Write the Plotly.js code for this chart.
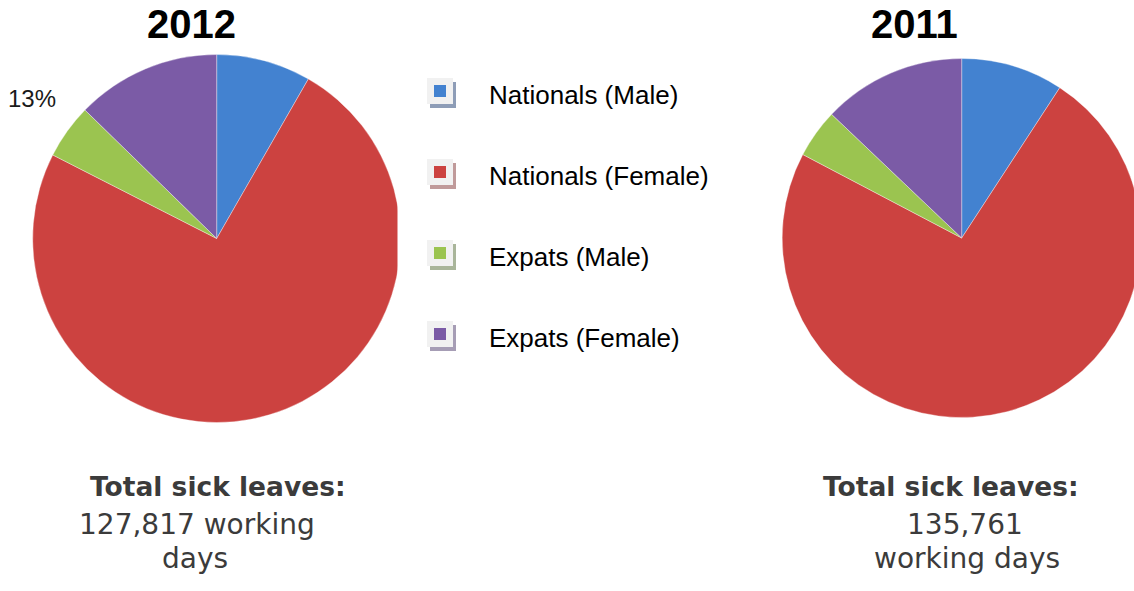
<!DOCTYPE html>
<html>
<head>
<meta charset="utf-8">
<script src="https://cdn.plot.ly/plotly-3.0.1.min.js"></script>
<style>
  html, body { margin: 0; padding: 0; overflow: hidden; background: #ffffff; }
  #chart { width: 1160px; height: 591px; }
</style>
</head>
<body>
<div id="chart"></div>
<script>
// ---- data ----
const categories = ['Nationals (Male)', 'Nationals (Female)', 'Expats (Male)', 'Expats (Female)'];
const years = ['2012', '2011'];
const values2012 = [8.3, 74.2, 4.8, 12.7];
const values2011 = [9.2, 73.5, 4.4, 12.9];
const totals = ['127,817', '135,761'];
const colors = ['#4382d0', '#cc4240', '#9bc450', '#7b5ba6'];
const shadowColors = ['#8e9db7', '#c09a9a', '#a9b59a', '#a69db5'];

// ---- layout helpers (pixel -> paper) ----
const W = 1160, H = 591;
const px = x => x / W;
const py = y => 1 - y / H;

function pieDomain(cx, cy, r) {
  return { x: [px(cx - r), px(cx + r)], y: [py(cy + r), py(cy - r)] };
}

const baseTrace = {
  type: 'pie',
  labels: categories,
  sort: false,
  direction: 'clockwise',
  rotation: 0,
  textinfo: 'none',
  hoverinfo: 'label+percent',
  showlegend: false,
  marker: { colors: colors, line: { color: 'rgba(255,255,255,0.35)', width: 1 } }
};

const data = [
  Object.assign({}, baseTrace, { values: values2012, name: years[0], domain: pieDomain(216.7, 238.5, 184) }),
  Object.assign({}, baseTrace, { values: values2011, name: years[1], domain: pieDomain(961.7, 238, 179.5) })
];

const sum2012 = values2012.reduce((a, b) => a + b, 0);
const purplePct = Math.round(values2012[3] / sum2012 * 100) + '%';

const font = 'Liberation Sans, Arial, sans-serif';
const wideFont = 'DejaVu Sans, Verdana, sans-serif';
const annotations = [];
function txt(text, x, y, size, color, bold, xanchor, fam) {
  annotations.push({
    text: bold ? '<b>' + text + '</b>' : text,
    x: px(x), y: py(y), xref: 'paper', yref: 'paper',
    xanchor: xanchor || 'center', yanchor: 'middle', showarrow: false,
    font: { family: fam || font, size: size, color: color }
  });
}

// titles
txt(years[0], 191.5, 24, 40, '#000000', true);
txt(years[1], 914, 24, 40, '#000000', true);

// slice label
txt(purplePct, 31.5, 99, 24, '#1a1a1a', false);

// bottom totals
const tc = '#3b3b3b';
txt('Total sick leaves:', 218, 486, 26.5, tc, true, 'center', wideFont);
txt(totals[0] + ' working', 196.5, 524, 28, tc, false, 'center', wideFont);
txt('days', 195, 558, 28, tc, false, 'center', wideFont);
txt('Total sick leaves:', 951, 486, 26.5, tc, true, 'center', wideFont);
txt(totals[1], 965, 524, 28, tc, false, 'center', wideFont);
txt('working days', 966.7, 558, 28, tc, false, 'center', wideFont);

// legend (text + icons)
const shapes = [];
// the reference crops the left pie at its right edge
shapes.push({ type: 'rect', xref: 'paper', yref: 'paper',
  x0: px(397.5), x1: px(412), y0: py(320), y1: py(160),
  fillcolor: '#ffffff', line: { width: 0 } });
categories.forEach((c, i) => {
  const ty = 95 + i * 81;
  const iy = ty - 4;
  const ix = 440;
  txt(c, 487, ty, 26, '#000000', false, 'left');
  shapes.push({ type: 'rect', xref: 'paper', yref: 'paper',
    x0: px(ix - 10), x1: px(ix + 16), y0: py(iy + 17), y1: py(iy - 9),
    fillcolor: shadowColors[i], line: { width: 0 } });
  shapes.push({ type: 'rect', xref: 'paper', yref: 'paper',
    x0: px(ix - 13), x1: px(ix + 13), y0: py(iy + 13), y1: py(iy - 13),
    fillcolor: '#f1f1f1', line: { width: 0 } });
  shapes.push({ type: 'rect', xref: 'paper', yref: 'paper',
    x0: px(ix - 6), x1: px(ix + 6), y0: py(iy + 6), y1: py(iy - 6),
    fillcolor: colors[i], line: { width: 0 } });
});

const layout = {
  width: W, height: H,
  margin: { l: 0, r: 0, t: 0, b: 0, pad: 0 },
  paper_bgcolor: '#ffffff',
  showlegend: false,
  annotations: annotations,
  shapes: shapes
};

Plotly.newPlot('chart', data, layout, { displayModeBar: false, staticPlot: true });
</script>
</body>
</html>
